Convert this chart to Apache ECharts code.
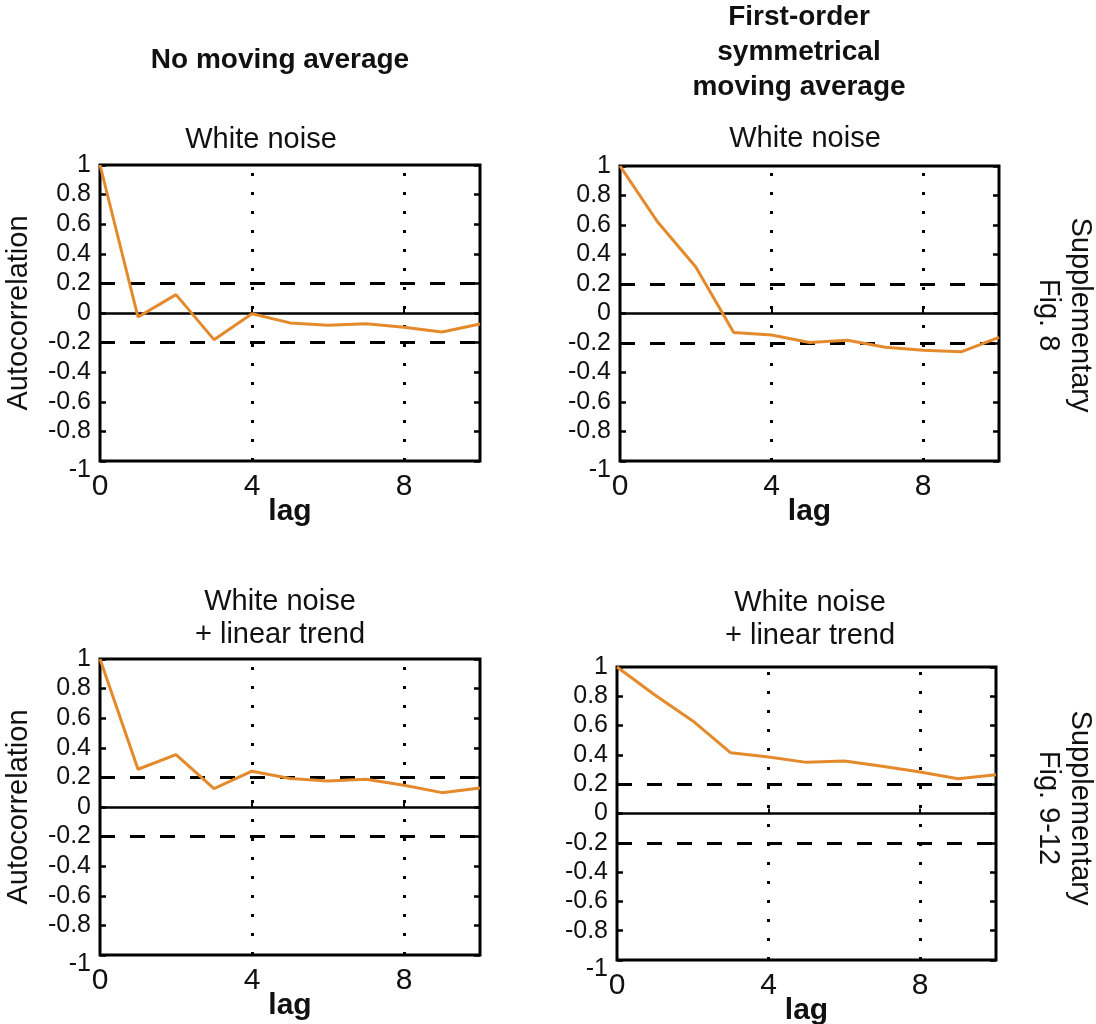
<!DOCTYPE html>
<html>
<head>
<meta charset="utf-8">
<title>Autocorrelation of white noise with and without moving average</title>
<script src="https://cdn.jsdelivr.net/npm/echarts@6/dist/echarts.min.js"></script>
<style>
  html, body { margin: 0; padding: 0; background: #ffffff; }
  #chart { width: 1096px; height: 1024px; }
</style>
</head>
<body>
<div id="chart"></div>
<script>
// Lags shown on the horizontal axis
const lags = [0, 1, 2, 3, 4, 5, 6, 7, 8, 9, 10];

// Sample autocorrelation, white noise, raw series
const acfWhiteNoise = [1, -0.027, 0.124, -0.18, -0.005, -0.067, -0.083, -0.072, -0.097, -0.128, -0.074];
// White noise after a first-order symmetrical moving average
const acfWhiteNoiseMA = [1, 0.618, 0.315, -0.128, -0.146, -0.196, -0.182, -0.229, -0.249, -0.26, -0.162];
// White noise plus linear trend, raw series
const acfTrend = [1, 0.255, 0.354, 0.124, 0.242, 0.192, 0.176, 0.187, 0.147, 0.097, 0.129];
// White noise plus linear trend after the moving average
const acfTrendMA = [1, 0.809, 0.632, 0.414, 0.386, 0.349, 0.359, 0.322, 0.283, 0.237, 0.264];

// Axis ranges and reference lines
const yRange = [-1, 1];
const yStep = 0.2;
const xRange = [0, 10];
const xStep = 4;
const confidenceBound = 0.2;
const guideLags = [4, 8];

// Text
const columnHeadings = ['No moving average', 'First-order\nsymmetrical\nmoving average'];
const panelTitles = ['White noise', 'White noise', 'White noise\n+ linear trend', 'White noise\n+ linear trend'];
const rowNotes = ['Supplementary\nFig. 8', 'Supplementary\nFig. 9-12'];
const yName = 'Autocorrelation';
const xName = 'lag';

const FONT = '"Liberation Sans", Arial, Helvetica, sans-serif';
const ORANGE = '#E48A2C';
const INK = '#111111';

const panelValues = [acfWhiteNoise, acfWhiteNoiseMA, acfTrend, acfTrendMA];
const gridBoxes = [
  { left: 100, top: 165, width: 380, height: 296 },
  { left: 620, top: 166, width: 379, height: 295 },
  { left: 100, top: 659, width: 380, height: 296 },
  { left: 617, top: 667, width: 379, height: 293 }
];

const grid = gridBoxes.map(b => Object.assign({
  show: true,
  borderColor: '#000',
  borderWidth: 3,
  backgroundColor: 'transparent',
  containLabel: false,
  outerBoundsMode: 'none'
}, b));

const xAxis = gridBoxes.map((b, i) => ({
  type: 'value',
  gridIndex: i,
  min: xRange[0],
  max: xRange[1],
  interval: xStep,
  axisLine: { show: false },
  axisTick: { inside: true, length: 5, lineStyle: { width: 2, color: '#000' } },
  splitLine: { show: false },
  axisLabel: { fontSize: 30, color: INK, fontFamily: FONT, margin: 11, showMinLabel: true, showMaxLabel: false },
  name: xName,
  nameLocation: 'middle',
  nameGap: 36,
  nameMoveOverlap: false,
  nameTextStyle: { fontSize: 30, fontWeight: 'bold', fontFamily: FONT, color: INK }
}));

const yAxis = [];
gridBoxes.forEach((b, i) => {
  yAxis.push({
    type: 'value',
    gridIndex: i,
    position: 'left',
    min: yRange[0],
    max: yRange[1],
    interval: yStep,
    axisLine: { show: false },
    axisTick: { inside: true, length: 6, lineStyle: { width: 2.5, color: '#000' } },
    splitLine: { show: false },
    axisLabel: {
      fontSize: 25,
      lineHeight: 18,
      color: INK,
      fontFamily: FONT,
      margin: 9,
      showMinLabel: true,
      showMaxLabel: true,
      hideOverlap: false,
      verticalAlignMinLabel: 'top',
      formatter: v => String(+Number(v).toFixed(1))
    }
  });
  yAxis.push({
    type: 'value',
    gridIndex: i,
    position: 'right',
    min: yRange[0],
    max: yRange[1],
    interval: yStep,
    axisLine: { show: false },
    axisTick: { inside: true, length: 6, lineStyle: { width: 2.5, color: '#000' } },
    splitLine: { show: false },
    axisLabel: { show: false }
  });
});

const refLines = [
  { yAxis: 0, lineStyle: { type: 'solid', width: 2.5, color: '#000' } },
  { yAxis: confidenceBound, lineStyle: { type: [15, 15], width: 3, color: '#000' } },
  { yAxis: -confidenceBound, lineStyle: { type: [15, 15], width: 3, color: '#000' } }
].concat(guideLags.map(l => ({ xAxis: l, lineStyle: { type: [3, 16], width: 3, color: '#000' } })));

const series = panelValues.map((vals, i) => ({
  type: 'line',
  xAxisIndex: i,
  yAxisIndex: 2 * i,
  data: lags.map((l, k) => [l, vals[k]]),
  symbol: 'none',
  z: 6,
  lineStyle: { color: ORANGE, width: 3 },
  emphasis: { disabled: true },
  markLine: {
    silent: true,
    symbol: ['none', 'none'],
    label: { show: false },
    emphasis: { disabled: true },
    animation: false,
    data: refLines
  }
}));

function label(x, y, text, size, opts) {
  opts = opts || {};
  return {
    type: 'text',
    x: x,
    y: y,
    rotation: opts.rotation || 0,
    silent: true,
    style: {
      text: text,
      fontSize: size,
      fontFamily: FONT,
      fontWeight: opts.bold ? 'bold' : 'normal',
      lineHeight: opts.lineHeight || size * 1.2,
      fill: INK,
      align: 'center',
      verticalAlign: 'middle',
      textAlign: 'center',
      textVerticalAlign: 'middle'
    }
  };
}

const graphic = [
  label(280, 60, columnHeadings[0], 28, { bold: true }),
  label(799, 52, columnHeadings[1], 28, { bold: true, lineHeight: 35 }),
  label(261, 140, panelTitles[0], 29),
  label(805, 139, panelTitles[1], 29),
  label(280, 618, panelTitles[2], 29, { lineHeight: 33 }),
  label(810, 619, panelTitles[3], 29, { lineHeight: 33 }),
  label(19, 313, yName, 29, { rotation: Math.PI / 2 }),
  label(19, 807, yName, 29, { rotation: Math.PI / 2 }),
  label(1064, 315, rowNotes[0], 29, { rotation: -Math.PI / 2, lineHeight: 32 }),
  label(1064, 808, rowNotes[1], 29, { rotation: -Math.PI / 2, lineHeight: 32 })
];

const chart = echarts.init(document.getElementById('chart'), null, { renderer: 'canvas' });
chart.setOption({
  animation: false,
  backgroundColor: '#ffffff',
  grid: grid,
  xAxis: xAxis,
  yAxis: yAxis,
  series: series,
  graphic: graphic
});
</script>
</body>
</html>
